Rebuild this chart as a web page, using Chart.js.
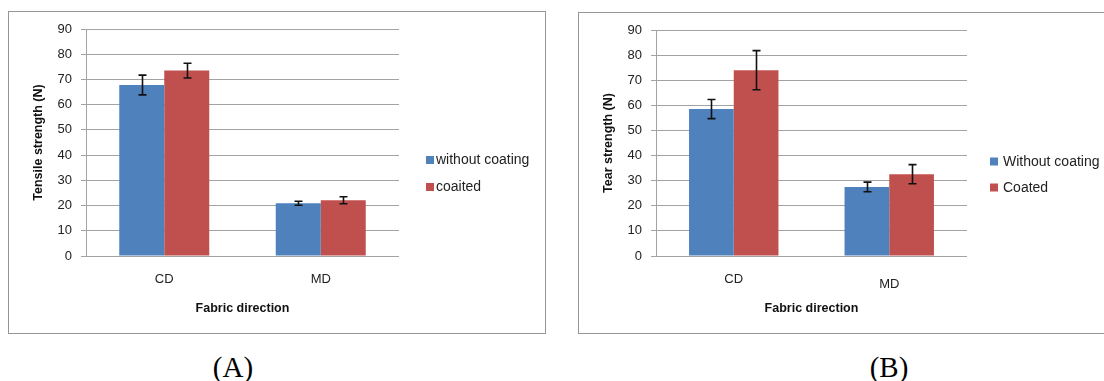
<!DOCTYPE html>
<html>
<head>
<meta charset="utf-8">
<script src="https://cdn.jsdelivr.net/npm/chart.js@4/dist/chart.umd.min.js"></script>
<style>
  html, body { margin: 0; padding: 0; background: #ffffff; width: 1104px; height: 381px; overflow: hidden; position: relative; }
  .box { position: absolute; border: 1px solid #959595; box-sizing: border-box; background: #fff; }
  .box canvas { position: absolute; left: 0; top: 0; }
  .cap { position: absolute; font-family: "Liberation Serif", "DejaVu Serif", serif; font-size: 29px; line-height: 1; color: #000; transform: translateX(-50%); }
</style>
</head>
<body>
<div class="box" id="boxA" style="left:8px; top:11px; width:538px; height:323px;">
  <canvas id="chartA" width="537" height="322"></canvas>
</div>
<div class="box" id="boxB" style="left:578px; top:12px; width:540px; height:322px;">
  <canvas id="chartB" width="540" height="321"></canvas>
</div>
<div class="cap" style="left:233px; top:353px;">(A)</div>
<div class="cap" style="left:889px; top:353px;">(B)</div>

<script>
// ---- data ----
const categories = ['CD', 'MD'];

const tensileLabels = ['without coating', 'coaited'];
const tensileWithout = [67.8, 20.9];
const tensileWithoutErr = [3.9, 0.8];
const tensileCoated = [73.5, 22.1];
const tensileCoatedErr = [2.9, 1.4];

const tearLabels = ['Without coating', 'Coated'];
const tearWithout = [58.5, 27.5];
const tearWithoutErr = [3.8, 1.9];
const tearCoated = [74.0, 32.6];
const tearCoatedErr = [7.8, 3.8];

const yMin = 0, yMax = 90, yStep = 10;

const BLUE = '#4F81BD';
const RED = '#C0504D';
const FONT = '"Liberation Sans", Arial, sans-serif';

const errorBarPlugin = {
  id: 'errorBars',
  afterDatasetsDraw(chart) {
    const ctx = chart.ctx;
    const y = chart.scales.y;
    ctx.save();
    ctx.strokeStyle = '#111';
    ctx.lineWidth = 1.6;
    chart.data.datasets.forEach((ds, i) => {
      const meta = chart.getDatasetMeta(i);
      meta.data.forEach((bar, j) => {
        const v = ds.data[j], e = ds.errors[j];
        const x = Math.round(bar.x) + 0.5;
        const yt = y.getPixelForValue(v + e);
        const yb = y.getPixelForValue(v - e);
        ctx.beginPath();
        ctx.moveTo(x, yt); ctx.lineTo(x, yb);
        ctx.moveTo(x - 4, yt); ctx.lineTo(x + 4, yt);
        ctx.moveTo(x - 4, yb); ctx.lineTo(x + 4, yb);
        ctx.stroke();
      });
    });
    ctx.restore();
  }
};

const legendPlugin = {
  id: 'sideLegend',
  afterDraw(chart) {
    const o = chart.options.plugins.sideLegend;
    const ctx = chart.ctx;
    ctx.save();
    ctx.font = '14px ' + FONT;
    ctx.textBaseline = 'middle';
    chart.data.datasets.forEach((ds, i) => {
      const cy = o.y[i];
      ctx.fillStyle = ds.backgroundColor;
      ctx.fillRect(o.x, cy - 4, 8, 8);
      ctx.fillStyle = '#222';
      ctx.fillText(ds.label, o.x + o.gap, cy + 0.5);
    });
    ctx.restore();
  }
};

function makeChart(id, labels, d1, e1, d2, e2, yTitle, padRight, legend, secondLabelLH) {
  return new Chart(document.getElementById(id), {
    type: 'bar',
    data: {
      labels: categories,
      datasets: [
        { label: labels[0], data: d1, errors: e1, backgroundColor: BLUE, borderWidth: 0,
          categoryPercentage: 0.575, barPercentage: 1.0 },
        { label: labels[1], data: d2, errors: e2, backgroundColor: RED, borderWidth: 0,
          categoryPercentage: 0.575, barPercentage: 1.0 }
      ]
    },
    options: {
      responsive: false,
      animation: false,
      devicePixelRatio: 1,
      layout: { padding: { top: 17, right: padRight, bottom: 0, left: 0 } },
      plugins: {
        legend: { display: false },
        tooltip: { enabled: false },
        sideLegend: legend
      },
      scales: {
        x: {
          grid: { display: false, drawTicks: false },
          border: { display: false },
          ticks: {
            color: '#222',
            font: (c) => ({ family: FONT, size: 13, lineHeight: c.index === 1 ? secondLabelLH : 1.2 }),
            padding: 16
          },
          title: { display: true, text: 'Fabric direction', color: '#111',
                   font: { family: FONT, size: 12.5, weight: 'bold' }, padding: { top: 0, bottom: 18 } },
          afterFit(s) { s.height = 78; }
        },
        y: {
          min: yMin, max: yMax,
          ticks: { stepSize: yStep, color: '#222', font: { family: FONT, size: 13 }, padding: 9 },
          grid: { color: '#a3a3a3', lineWidth: 1, tickLength: 5, drawTicks: true },
          border: { display: true, color: '#a3a3a3' },
          title: { display: true, text: yTitle, color: '#111',
                   font: { family: FONT, size: 12.5, weight: 'bold' }, padding: { top: 22, bottom: 0 } },
          afterFit(s) { s.width = 77; }
        }
      }
    },
    plugins: [errorBarPlugin, legendPlugin]
  });
}

makeChart('chartA', tensileLabels, tensileWithout, tensileWithoutErr, tensileCoated, tensileCoatedErr,
          'Tensile strength (N)', 147, { x: 417, gap: 10, y: [148, 175] }, 1.2);
makeChart('chartB', tearLabels, tearWithout, tearWithoutErr, tearCoated, tearCoatedErr,
          'Tear strength (N)', 152, { x: 411, gap: 13, y: [148.5, 174.5] }, 1.97);
</script>
</body>
</html>
